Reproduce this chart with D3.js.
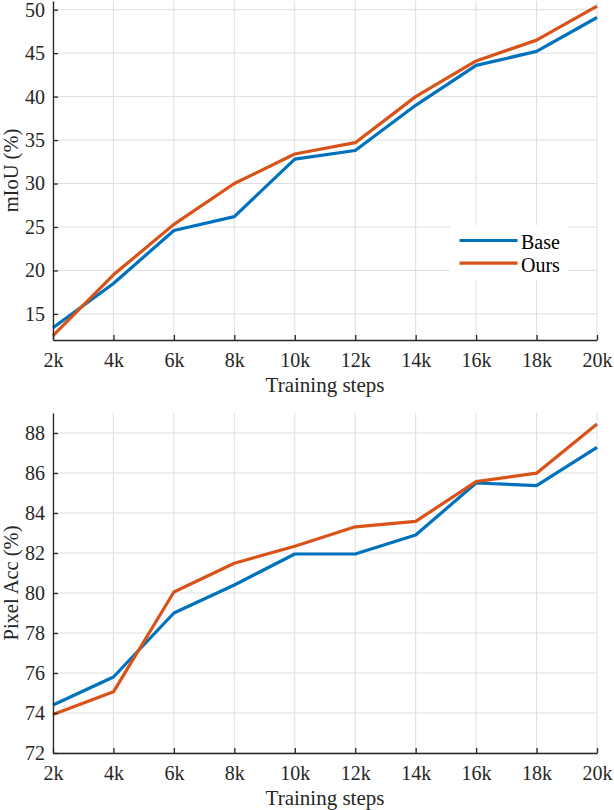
<!DOCTYPE html>
<html>
<head>
<meta charset="utf-8">
<script src="https://cdn.jsdelivr.net/npm/d3@7"></script>
<style>
  body { margin: 0; background: #fff; }
  svg { display: block; }
</style>
</head>
<body>
<div id="chart"></div>
<script>
// training steps (k)
var steps = [2, 4, 6, 8, 10, 12, 14, 16, 18, 20];
var stepLabels = ["2k", "4k", "6k", "8k", "10k", "12k", "14k", "16k", "18k", "20k"];

// mIoU (%)
var miouBase = [13.4, 18.5, 24.6, 26.2, 32.8, 33.8, 39.0, 43.6, 45.2, 49.1];
var miouOurs = [12.5, 19.5, 25.3, 30.0, 33.4, 34.7, 40.0, 44.1, 46.5, 50.4];
var miouTicks = [15, 20, 25, 30, 35, 40, 45, 50];

// Pixel Acc (%)
var accBase = [74.4, 75.8, 79.0, 80.4, 81.95, 81.95, 82.9, 85.5, 85.37, 87.28];
var accOurs = [73.93, 75.06, 80.05, 81.49, 82.34, 83.31, 83.58, 85.57, 85.99, 88.45];
var accTicks = [72, 74, 76, 78, 80, 82, 84, 86, 88];

var seriesNames = ["Base", "Ours"];
var colors = ["#0072BD", "#D95319"];

var FONT = "'Liberation Serif', 'Times New Roman', Times, serif";
var width = 614, height = 810;
var svg = d3.select("#chart").append("svg")
    .attr("width", width)
    .attr("height", height)
    .attr("font-family", FONT);

function panel(opts) {
    var x = d3.scaleLinear().domain([2, 20]).range([53, 597]);
    var y = d3.scaleLinear().domain(opts.domain).range([opts.bottom, opts.top]);
    var g = svg.append("g");

    // grid
    g.append("g").selectAll("line").data(steps).enter().append("line")
        .attr("x1", function(d) { return x(d); }).attr("x2", function(d) { return x(d); })
        .attr("y1", y.range()[0]).attr("y2", y.range()[1])
        .attr("stroke", "#dedede").attr("stroke-width", 1);
    g.append("g").selectAll("line").data(opts.ticks).enter().append("line")
        .attr("y1", function(d) { return y(d); }).attr("y2", function(d) { return y(d); })
        .attr("x1", x.range()[0]).attr("x2", x.range()[1])
        .attr("stroke", "#dedede").attr("stroke-width", 1);

    // lines
    var line = d3.line()
        .x(function(d, i) { return x(steps[i]); })
        .y(function(d) { return y(d); });
    [opts.base, opts.ours].forEach(function(s, k) {
        g.append("path").datum(s)
            .attr("d", line)
            .attr("fill", "none")
            .attr("stroke", colors[k])
            .attr("stroke-width", 3.2)
            .attr("stroke-linejoin", "round");
    });

    // axes (matlab style, ticks inward)
    var xAxis = d3.axisBottom(x).tickValues(steps)
        .tickFormat(function(d, i) { return stepLabels[i]; })
        .tickSizeInner(-5).tickSizeOuter(0).tickPadding(13);
    var yAxis = d3.axisLeft(y).tickValues(opts.ticks)
        .tickSizeInner(-5).tickSizeOuter(0).tickPadding(8);

    var gx = g.append("g").attr("transform", "translate(0," + opts.bottom + ")").call(xAxis);
    var gy = g.append("g").attr("transform", "translate(53,0)").call(yAxis);
    [gx, gy].forEach(function(a) {
        a.attr("font-family", FONT).attr("font-size", 20);
        a.selectAll("path").attr("stroke", "#262626").attr("stroke-width", 1.3);
        a.selectAll("line").attr("stroke", "#262626").attr("stroke-width", 1.3);
        a.selectAll("text").attr("fill", "#262626");
    });

    g.append("text")
        .attr("x", 325).attr("y", opts.bottom + 52)
        .attr("text-anchor", "middle")
        .attr("font-size", 21).attr("fill", "#262626")
        .text("Training steps");
    g.append("text")
        .attr("transform", "translate(18," + ((opts.top + opts.bottom) / 2) + ") rotate(-90)")
        .attr("text-anchor", "middle")
        .attr("font-size", 20.5).attr("fill", "#262626")
        .text(opts.ylabel);
    return g;
}

var topPanel = panel({
    domain: [12, 51], top: 1, bottom: 340,
    ticks: miouTicks, base: miouBase, ours: miouOurs, ylabel: "mIoU (%)"
});
panel({
    domain: [72, 89], top: 413, bottom: 753,
    ticks: accTicks, base: accBase, ours: accOurs, ylabel: "Pixel Acc (%)"
});

// legend
var legend = topPanel.append("g").attr("transform", "translate(450,225)");
legend.append("rect").attr("width", 118).attr("height", 55).attr("fill", "#fff");
seriesNames.forEach(function(n, i) {
    var row = legend.append("g").attr("transform", "translate(0," + (15.5 + i * 22.7) + ")");
    row.append("line").attr("x1", 9.5).attr("x2", 67.5)
        .attr("stroke", colors[i]).attr("stroke-width", 3.2);
    row.append("text").attr("x", 71).attr("y", 8.3)
        .attr("font-size", 20).attr("fill", "#000")
        .text(n);
});
</script>
</body>
</html>
